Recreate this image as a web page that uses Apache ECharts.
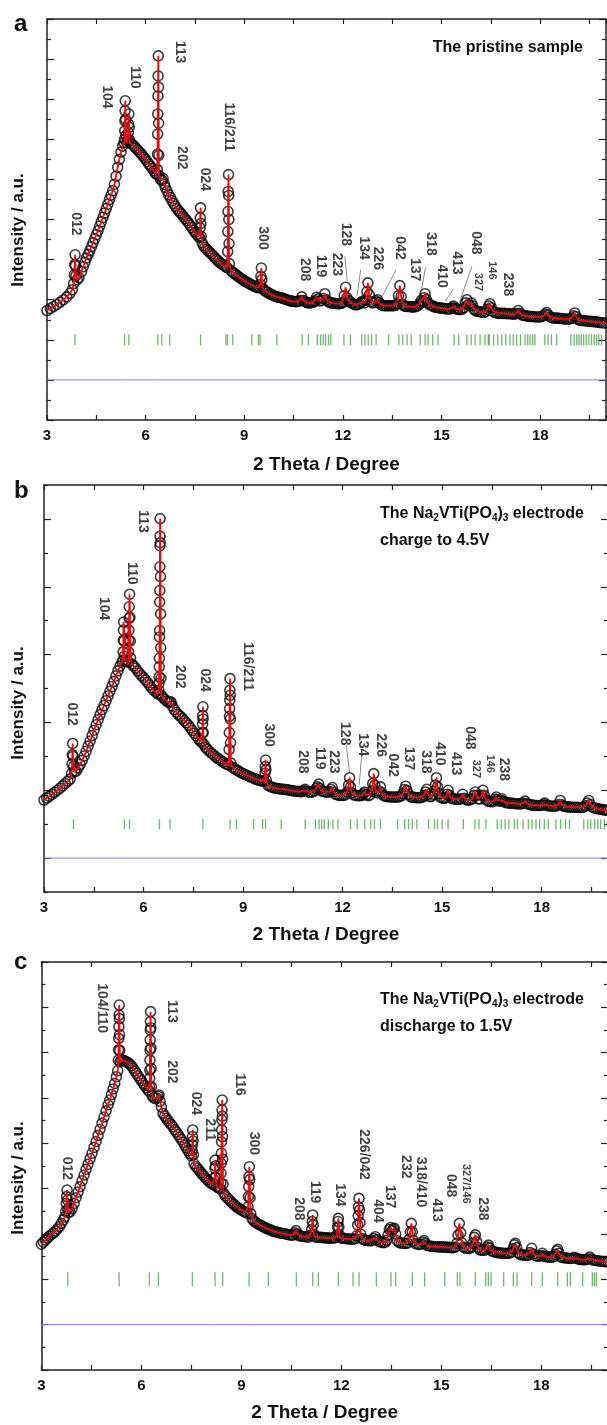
<!DOCTYPE html>
<html>
<head>
<meta charset="utf-8">
<script src="https://cdn.jsdelivr.net/npm/echarts@6/dist/echarts.min.js"></script>
<style>
html,body{margin:0;padding:0;background:#fff;}
#chart{width:607px;height:1425px;}
</style>
</head>
<body>
<div id="chart"></div>
<script>
var FONT = '"Liberation Sans", Arial, sans-serif';
var INK = '#111';

// ---- panel a : pristine sample ----
var obsA = [[3.0,2.73],[3.1,2.78],[3.2,2.83],[3.3,2.88],[3.4,2.94],[3.5,3.0],[3.6,3.07],[3.7,3.16],[3.77,3.25],[3.81,3.4],[3.83,3.62],[3.845,3.88],[3.855,4.12],[3.865,3.85],[3.88,3.6],[3.92,3.5],[3.97,3.55],[4.05,3.7],[4.1,3.82],[4.15,3.93],[4.2,4.04],[4.25,4.13],[4.3,4.22],[4.35,4.32],[4.4,4.42],[4.45,4.52],[4.5,4.62],[4.55,4.72],[4.6,4.83],[4.65,4.94],[4.7,5.05],[4.75,5.16],[4.8,5.27],[4.85,5.38],[4.9,5.5],[4.95,5.61],[5.0,5.72],[5.05,5.88],[5.1,6.08],[5.15,6.3],[5.2,6.5],[5.25,6.68],[5.3,6.83],[5.34,6.92],
[5.36,7.0],[5.365,7.21],[5.37,7.46],[5.375,7.71],[5.38,7.96],[5.39,7.5],[5.4,7.1],[5.43,6.92],
[5.465,6.96],[5.475,7.17],[5.48,7.38],[5.49,7.63],[5.5,7.3],[5.51,6.98],
[5.55,6.9],[5.6,6.87],[5.65,6.83],[5.7,6.78],[5.75,6.74],[5.8,6.69],[5.85,6.65],[5.9,6.6],[5.95,6.55],[6.0,6.5],[6.05,6.44],[6.1,6.38],[6.15,6.33],[6.2,6.27],[6.25,6.21],[6.3,6.15],[6.34,6.12],
[6.355,6.25],[6.36,6.63],[6.365,7.13],[6.37,7.63],[6.375,8.08],[6.38,8.58],[6.385,9.08],[6.39,8.3],[6.395,7.4],[6.4,6.6],[6.41,6.1],
[6.45,6.0],[6.5,5.97],[6.53,6.02],[6.57,5.88],[6.6,5.8],[6.65,5.71],[6.7,5.62],[6.75,5.55],[6.8,5.47],[6.85,5.4],[6.9,5.33],[6.95,5.27],[7.0,5.22],[7.05,5.17],[7.1,5.13],[7.15,5.07],[7.2,5.02],[7.25,4.97],[7.3,4.92],[7.35,4.86],[7.4,4.8],[7.45,4.74],[7.5,4.68],[7.55,4.63],[7.6,4.58],[7.64,4.55],
[7.655,4.79],[7.66,5.04],[7.67,5.29],[7.68,4.9],[7.69,4.58],[7.72,4.42],
[7.76,4.35],[7.8,4.3],[7.85,4.26],[7.9,4.22],[7.95,4.18],[8.0,4.14],[8.05,4.1],[8.1,4.05],[8.15,4.01],[8.2,3.97],[8.25,3.93],[8.3,3.9],[8.35,3.87],[8.4,3.84],[8.45,3.81],[8.48,3.8],
[8.495,4.2],[8.5,4.7],[8.505,5.2],[8.51,5.7],[8.52,6.12],[8.525,5.6],[8.53,5.0],[8.535,4.4],[8.545,3.9],
[8.6,3.72],[8.65,3.68],[8.7,3.65],[8.75,3.62],[8.8,3.59],[8.85,3.56],[8.9,3.53],[8.95,3.5],[9.0,3.47],[9.05,3.45],[9.1,3.43],[9.15,3.4],[9.2,3.38],[9.25,3.36],[9.3,3.34],[9.35,3.32],[9.4,3.3],[9.46,3.3],
[9.49,3.38],[9.505,3.58],[9.52,3.79],[9.535,3.5],[9.56,3.28],
[9.6,3.24],[9.65,3.21],[9.7,3.19],[9.75,3.16],[9.8,3.14],[9.85,3.12],[9.9,3.1],[9.95,3.08],[10.0,3.07],[10.05,3.06],[10.1,3.05],[10.15,3.04],[10.2,3.03],[10.25,3.01],[10.3,3.0],[10.35,2.98],[10.4,2.97],[10.45,2.96],[10.5,2.96],[10.55,2.95],[10.6,2.95],[10.65,2.96],[10.7,2.98],[10.75,3.07],[10.8,2.98],[10.85,2.95],[10.9,2.93],[10.95,2.92],[11.0,2.92],[11.05,2.93],[11.1,2.94],[11.15,2.97],[11.2,3.06],[11.25,3.02],[11.3,2.97],[11.35,2.98],[11.4,3.03],[11.45,3.15],[11.5,3.0],[11.55,2.95],[11.6,2.93],[11.65,2.92],[11.7,2.91],[11.75,2.91],[11.8,2.9],[11.85,2.9],[11.9,2.9],[11.95,2.91],[12.0,2.93],[12.04,3.1],[12.08,3.31],[12.12,3.05],[12.16,2.98],[12.2,2.96],[12.25,2.92],[12.3,2.9],[12.35,2.88],[12.4,2.87],[12.45,2.88],[12.5,2.9],[12.55,2.94],[12.6,2.96],[12.65,2.92],[12.7,3.0],[12.73,3.2],[12.76,3.42],[12.8,3.12],[12.85,2.95],[12.9,2.92],[12.95,2.94],[13.0,2.97],[13.05,3.0],[13.1,2.93],[13.15,2.88],[13.2,2.86],[13.25,2.85],[13.3,2.85],[13.35,2.85],[13.4,2.85],[13.45,2.85],[13.5,2.85],[13.55,2.85],[13.6,2.86],[13.65,2.9],[13.69,3.1],[13.73,3.35],[13.77,3.08],[13.82,2.88],[13.87,2.84],[13.92,2.83],[13.97,2.83],[14.02,2.83],[14.07,2.82],[14.12,2.82],[14.17,2.82],[14.22,2.83],[14.28,2.85],[14.33,2.9],[14.38,2.98],[14.43,2.95],[14.47,3.05],[14.5,3.15],[14.54,3.0],[14.58,2.92],[14.63,2.88],[14.68,2.86],[14.73,2.84],[14.78,2.82],[14.84,2.81],[14.9,2.8],[14.96,2.79],[15.02,2.79],[15.08,2.78],[15.14,2.77],[15.2,2.77],[15.26,2.77],[15.32,2.8],[15.36,2.84],[15.4,2.79],[15.45,2.77],[15.5,2.76],[15.56,2.75],[15.62,2.76],[15.68,2.8],[15.73,2.92],[15.77,3.0],[15.81,2.88],[15.86,2.85],[15.9,2.92],[15.94,2.85],[15.99,2.76],[16.04,2.72],[16.1,2.71],[16.16,2.7],[16.22,2.69],[16.28,2.68],[16.34,2.7],[16.39,2.76],[16.43,2.84],[16.47,2.9],[16.51,2.8],[16.56,2.72],[16.62,2.68],[16.68,2.67],[16.74,2.66],[16.8,2.66],[16.86,2.66],[16.92,2.66],[16.98,2.65],[17.04,2.65],[17.1,2.65],[17.16,2.64],[17.22,2.64],[17.28,2.66],[17.33,2.73],[17.38,2.66],[17.44,2.62],[17.5,2.61],[17.56,2.6],[17.62,2.59],[17.68,2.58],[17.74,2.58],[17.8,2.58],[17.86,2.57],[17.92,2.57],[17.98,2.57],[18.04,2.58],[18.1,2.6],[18.15,2.64],[18.19,2.68],[18.24,2.62],[18.3,2.57],[18.36,2.55],[18.42,2.54],[18.48,2.54],[18.54,2.54],[18.6,2.53],[18.66,2.53],[18.72,2.52],[18.78,2.52],[18.84,2.52],[18.9,2.52],[18.96,2.54],[19.01,2.6],[19.05,2.67],[19.09,2.58],[19.14,2.51],[19.2,2.49],[19.26,2.48],[19.32,2.48],[19.38,2.47],[19.44,2.47],[19.5,2.46],[19.56,2.46],[19.62,2.45],[19.68,2.45],[19.74,2.44],[19.8,2.43],[19.86,2.43],[19.92,2.42],[20.0,2.42]];
var braggA = [3.85,5.36,5.49,6.37,6.49,6.73,7.67,8.44,8.49,8.65,9.23,9.43,9.48,9.99,10.76,10.95,11.22,11.32,11.4,11.47,11.56,11.63,12.03,12.23,12.57,12.67,12.77,12.87,13.01,13.39,13.7,13.82,13.95,14.08,14.35,14.5,14.59,14.73,14.89,15.38,15.52,15.77,15.9,16.02,16.17,16.32,16.42,16.45,16.58,16.71,16.83,16.95,17.08,17.18,17.28,17.4,17.54,17.62,17.69,17.77,17.84,18.14,18.24,18.34,18.5,18.93,19.03,19.11,19.18,19.25,19.32,19.4,19.48,19.56,19.64,19.71,19.78,19.86];
var diffA = [[3,1],[5.35,1],[5.39,1.03],[5.43,1],[6.35,1],[6.38,1.02],[6.41,1],[20,1]];
var hklA = [['012',3.88,5.18],['104',4.81,8.35],['110',5.67,8.83],['113',7.03,9.46],['202',7.11,6.83],['024',7.79,6.29],['116/211',8.52,7.92],['300',9.55,4.83],['208',10.85,4.04],['119',11.34,4.12],['223',11.81,4.17],['128',12.08,4.92],['134',12.64,4.58],['226',13.07,4.32],['042',13.73,4.58],['137',14.2,4.04],['318',14.66,4.68],['410',15.01,3.88],['413',15.46,4.21],['048',16.04,4.71],['327',16.12,3.67,'s'],['146',16.53,3.96,'s'],['238',17.03,3.67]];
var leadA = [[[12.06,4.08],[12.13,3.46]],[[12.54,3.75],[12.43,3.1]],[[13.62,3.75],[13.19,3.08]],[[14.51,3.79],[14.38,3.21]],[[15.36,3.27],[15.11,2.96]],[[15.92,3.83],[15.54,2.92]]];

// ---- panel b : charged to 4.5 V ----
var obsB = [[3.0,2.71],[3.08,2.77],[3.16,2.82],[3.24,2.88],[3.32,2.94],[3.4,3.0],[3.48,3.06],[3.56,3.13],[3.64,3.2],[3.72,3.27],[3.79,3.33],[3.83,3.5],[3.845,3.78],[3.855,4.05],[3.865,4.38],[3.875,4.0],[3.89,3.7],[3.92,3.55],[3.97,3.56],[4.03,3.66],[4.09,3.76],[4.15,3.88],[4.21,4.01],[4.27,4.15],[4.33,4.3],[4.39,4.45],[4.45,4.61],[4.51,4.77],[4.57,4.93],[4.63,5.08],[4.69,5.23],[4.75,5.38],[4.81,5.5],[4.87,5.64],[4.93,5.78],[4.99,5.92],[5.05,6.06],[5.11,6.21],[5.17,6.37],[5.23,6.52],[5.29,6.66],[5.35,6.78],
[5.38,6.83],[5.385,7.08],[5.39,7.42],[5.395,7.72],[5.4,7.96],[5.41,7.4],[5.42,6.95],[5.46,6.8],[5.51,6.79],[5.545,6.78],
[5.55,7.08],[5.555,7.42],[5.56,7.72],[5.565,8.07],[5.57,8.41],[5.58,8.78],[5.59,8.1],[5.6,7.4],[5.61,6.9],
[5.65,6.72],[5.7,6.67],[5.76,6.6],[5.82,6.52],[5.88,6.45],[5.94,6.38],[6.0,6.32],[6.06,6.25],[6.12,6.18],[6.18,6.1],[6.24,6.02],[6.3,5.95],[6.36,5.9],[6.42,5.85],[6.45,5.83],
[6.46,5.95],[6.465,6.15],[6.47,6.34],[6.475,6.64],[6.478,6.89],[6.482,7.52],[6.485,7.71],[6.488,8.55],[6.49,8.89],[6.493,9.59],[6.495,10.21],[6.497,10.49],[6.5,11.01],[6.505,10.3],[6.51,9.3],[6.515,8.2],[6.52,7.2],[6.525,6.3],[6.535,5.8],
[6.58,5.74],[6.64,5.68],[6.7,5.63],[6.76,5.59],[6.8,5.6],[6.83,5.6],[6.87,5.48],[6.93,5.38],[6.99,5.3],[7.05,5.23],[7.11,5.18],[7.17,5.12],[7.23,5.05],[7.29,4.99],[7.35,4.92],[7.41,4.84],[7.47,4.76],[7.53,4.68],[7.59,4.6],[7.65,4.51],[7.71,4.45],[7.76,4.42],
[7.775,4.7],[7.78,4.95],[7.785,5.2],[7.79,5.46],[7.795,5.1],[7.8,4.7],[7.815,4.36],
[7.86,4.27],[7.92,4.21],[7.98,4.15],[8.04,4.1],[8.1,4.05],[8.16,4.0],[8.22,3.95],[8.28,3.91],[8.34,3.87],[8.4,3.83],[8.46,3.79],[8.52,3.76],[8.57,3.74],
[8.58,4.2],[8.585,4.7],[8.59,5.18],[8.595,5.41],[8.6,5.65],[8.603,5.95],[8.607,6.29],[8.612,5.8],[8.617,5.1],[8.622,4.4],[8.635,3.8],
[8.68,3.68],[8.74,3.64],[8.8,3.6],[8.86,3.57],[8.92,3.53],[8.98,3.5],[9.04,3.47],[9.1,3.45],[9.16,3.42],[9.22,3.39],[9.28,3.37],[9.34,3.34],[9.4,3.32],[9.46,3.3],[9.52,3.28],[9.58,3.27],[9.64,3.27],
[9.66,3.5],[9.67,3.7],[9.68,3.89],[9.69,3.6],[9.7,3.3],
[9.75,3.15],[9.81,3.11],[9.87,3.09],[9.93,3.07],[9.99,3.06],[10.05,3.05],[10.11,3.04],[10.17,3.03],[10.23,3.03],[10.29,3.02],[10.35,3.01],[10.41,3.0],[10.47,2.99],[10.53,2.98],[10.59,2.97],[10.65,2.97],[10.71,2.96],[10.77,2.96],[10.83,2.99],[10.87,3.03],[10.91,2.98],[10.97,2.95],[11.03,2.94],[11.09,2.95],[11.15,2.98],[11.2,3.05],[11.24,3.1],[11.28,3.18],[11.32,3.05],[11.37,2.98],[11.43,2.96],[11.49,2.95],[11.55,2.94],[11.61,2.96],[11.65,3.02],[11.69,3.08],[11.73,2.95],[11.79,2.88],[11.85,2.86],[11.91,2.85],[11.97,2.85],[12.03,2.85],[12.09,2.87],[12.14,2.95],[12.18,3.15],[12.21,3.37],[12.24,3.1],[12.28,2.92],[12.34,2.86],[12.4,2.85],[12.46,2.84],[12.52,2.84],[12.58,2.85],[12.63,2.9],[12.67,2.95],[12.71,2.87],[12.77,2.84],[12.83,2.86],[12.88,2.98],[12.91,3.2],[12.94,3.49],[12.97,3.15],[13.01,2.95],[13.06,2.92],[13.1,2.98],[13.14,3.1],[13.18,2.92],[13.23,2.85],[13.29,2.82],[13.35,2.81],[13.41,2.81],[13.47,2.8],[13.53,2.8],[13.59,2.8],[13.65,2.8],[13.71,2.81],[13.77,2.83],[13.82,2.9],[13.86,3.02],[13.9,3.12],[13.94,3.0],[13.99,2.88],[14.05,2.81],[14.11,2.79],[14.17,2.79],[14.23,2.78],[14.29,2.78],[14.35,2.78],[14.41,2.8],[14.46,2.85],[14.5,2.95],[14.54,3.03],[14.58,2.88],[14.63,2.81],[14.68,2.82],[14.73,2.88],[14.77,2.98],[14.8,3.15],[14.83,3.37],[14.86,3.1],[14.9,2.9],[14.95,2.8],[15.0,2.77],[15.06,2.76],[15.11,2.78],[15.15,2.88],[15.18,3.0],[15.22,2.85],[15.27,2.77],[15.33,2.75],[15.39,2.74],[15.45,2.73],[15.51,2.73],[15.57,2.75],[15.62,2.88],[15.67,2.76],[15.73,2.72],[15.79,2.71],[15.85,2.72],[15.91,2.75],[15.96,2.85],[16.0,2.95],[16.04,2.85],[16.09,2.75],[16.14,2.74],[16.19,2.85],[16.23,3.0],[16.27,2.85],[16.32,2.73],[16.38,2.68],[16.44,2.67],[16.5,2.66],[16.56,2.68],[16.6,2.74],[16.63,2.8],[16.67,2.72],[16.72,2.68],[16.77,2.7],[16.8,2.75],[16.84,2.68],[16.9,2.64],[16.96,2.63],[17.02,2.62],[17.08,2.62],[17.14,2.61],[17.2,2.61],[17.26,2.6],[17.32,2.6],[17.38,2.6],[17.44,2.62],[17.5,2.68],[17.56,2.61],[17.62,2.58],[17.68,2.57],[17.74,2.56],[17.8,2.55],[17.86,2.55],[17.92,2.55],[17.98,2.55],[18.04,2.57],[18.09,2.62],[18.14,2.57],[18.2,2.54],[18.26,2.54],[18.32,2.53],[18.38,2.53],[18.44,2.54],[18.5,2.58],[18.56,2.7],[18.61,2.57],[18.66,2.53],[18.72,2.52],[18.78,2.51],[18.84,2.51],[18.9,2.5],[18.96,2.5],[19.02,2.5],[19.08,2.5],[19.14,2.49],[19.2,2.49],[19.26,2.5],[19.32,2.54],[19.37,2.62],[19.42,2.7],[19.47,2.58],[19.53,2.5],[19.59,2.48],[19.65,2.46],[19.71,2.45],[19.77,2.44],[19.83,2.43],[19.89,2.42],[19.95,2.41],[20.0,2.4]];
var braggB = [3.89,5.42,5.58,6.48,6.8,7.79,8.61,8.8,9.32,9.59,9.68,10.15,10.87,11.18,11.29,11.37,11.45,11.57,11.71,11.86,12.24,12.44,12.67,12.85,12.96,13.14,13.66,13.87,13.99,14.1,14.24,14.59,14.77,14.86,15.0,15.18,15.64,15.99,16.11,16.32,16.66,16.78,16.9,17.01,17.18,17.27,17.44,17.6,17.71,17.83,17.94,18.08,18.2,18.43,18.57,18.72,18.84,19.27,19.39,19.48,19.6,19.69,19.78,19.89];
var diffB = [[3,1],[5.37,1],[5.4,1.03],[5.43,1],[6.47,1],[6.5,1.03],[6.53,1],[20,1]];
var hklB = [['012',3.85,5.59],['104',4.8,8.7],['110',5.65,9.73],['113',5.98,11.26],['202',7.09,6.69],['024',7.84,6.59],['116/211',9.14,7.37],['300',9.79,4.97],['208',10.81,4.18],['119',11.3,4.28],['223',11.74,4.18],['128',12.07,5.01],['134',12.62,4.69],['226',13.14,4.67],['042',13.52,4.08],['137',14.01,4.28],['318',14.5,4.18],['410',14.94,4.42],['413',15.41,4.13],['048',15.85,4.89],['327',16.01,3.9,'s'],['146',16.43,4.05,'s'],['238',16.86,3.96]];
var leadB = [[[12.11,4.33],[12.21,3.54]],[[12.58,4.08],[12.5,3.15]]];

// ---- panel c : discharged to 1.5 V ----
var obsC = [[3.0,5.55],[3.06,5.64],[3.12,5.73],[3.18,5.82],[3.24,5.9],[3.3,5.98],[3.36,6.05],[3.42,6.13],[3.48,6.22],[3.54,6.33],[3.6,6.47],[3.66,6.62],[3.7,6.75],
[3.73,7.0],[3.745,7.35],[3.755,7.65],[3.77,7.94],[3.78,7.5],[3.79,7.1],[3.81,6.95],
[3.86,6.97],[3.92,7.12],[3.98,7.35],[4.04,7.6],[4.1,7.85],[4.16,8.09],[4.22,8.35],[4.28,8.6],[4.34,8.85],[4.4,9.08],[4.46,9.32],[4.52,9.56],[4.58,9.82],[4.64,10.08],[4.7,10.35],[4.76,10.62],[4.82,10.89],[4.88,11.16],[4.94,11.43],[5.0,11.7],[5.05,11.91],[5.1,12.15],[5.15,12.4],[5.2,12.64],[5.25,12.94],[5.29,13.2],
[5.31,13.67],[5.315,14.12],[5.32,14.63],[5.325,15.15],[5.33,15.66],[5.335,16.1],[5.34,15.5],[5.345,14.8],[5.35,14.1],[5.36,13.6],
[5.4,13.67],[5.45,13.67],[5.5,13.64],[5.55,13.6],[5.6,13.55],[5.65,13.5],[5.7,13.42],[5.75,13.32],[5.8,13.2],[5.85,13.09],[5.9,12.98],[5.95,12.87],[6.0,12.76],[6.05,12.65],[6.1,12.55],[6.15,12.45],[6.2,12.35],[6.23,12.3],
[6.245,12.5],[6.25,12.87],[6.253,13.23],[6.256,13.67],[6.26,14.12],[6.264,14.56],[6.268,15.0],[6.272,15.37],[6.276,15.81],[6.282,15.1],[6.288,14.2],[6.294,13.3],[6.3,12.5],[6.32,12.1],
[6.37,12.0],[6.42,11.98],[6.47,12.0],[6.5,12.08],[6.53,12.13],[6.56,11.85],[6.6,11.6],[6.65,11.32],[6.7,11.2],[6.75,11.1],[6.8,11.0],[6.85,10.9],[6.9,10.82],[6.95,10.72],[7.0,10.6],[7.05,10.5],[7.1,10.39],[7.15,10.28],[7.2,10.17],[7.25,10.05],[7.3,9.92],[7.35,9.8],[7.4,9.67],[7.45,9.55],[7.5,9.45],
[7.52,9.7],[7.527,9.93],[7.533,10.3],[7.54,10.59],[7.55,10.1],[7.56,9.5],[7.58,9.1],
[7.63,8.98],[7.68,8.9],[7.73,8.82],[7.78,8.72],[7.83,8.63],[7.88,8.55],[7.93,8.46],[7.98,8.39],[8.03,8.32],[8.08,8.25],[8.13,8.2],[8.18,8.15],
[8.2,8.5],[8.207,8.9],[8.213,9.26],[8.22,9.0],[8.23,8.5],[8.25,8.1],
[8.3,8.05],[8.35,8.0],[8.37,8.0],
[8.385,8.24],[8.39,8.68],[8.395,9.12],[8.4,9.56],[8.405,10.07],[8.41,10.59],[8.415,11.03],[8.42,11.47],[8.425,11.91],[8.43,11.2],[8.435,10.3],[8.44,9.3],[8.45,8.2],[8.47,7.8],
[8.52,7.68],[8.57,7.6],[8.62,7.53],[8.67,7.45],[8.72,7.38],[8.77,7.31],[8.82,7.25],[8.87,7.19],[8.92,7.13],[8.97,7.08],[9.02,7.04],[9.07,7.0],[9.12,6.96],[9.17,6.92],
[9.2,7.2],[9.21,7.65],[9.22,8.09],[9.23,8.53],[9.24,8.97],[9.25,8.4],[9.26,7.6],[9.28,6.9],
[9.32,6.68],[9.37,6.58],[9.42,6.52],[9.47,6.47],[9.52,6.43],[9.57,6.39],[9.62,6.35],[9.67,6.31],[9.72,6.27],[9.77,6.24],[9.82,6.21],[9.87,6.18],[9.92,6.15],[9.97,6.12],[10.03,6.1],[10.09,6.07],[10.15,6.05],[10.21,6.03],[10.27,6.02],[10.33,6.0],[10.39,5.98],[10.45,5.96],[10.51,5.95],[10.56,5.96],[10.6,6.05],[10.64,6.15],[10.68,6.0],[10.73,5.93],[10.79,5.91],[10.85,5.89],[10.91,5.88],[10.97,5.87],[11.03,5.87],[11.08,5.95],
[11.11,6.2],[11.125,6.55],[11.14,6.84],[11.155,6.4],[11.175,5.98],
[11.22,5.87],[11.28,5.86],[11.34,5.85],[11.4,5.85],[11.46,5.84],[11.52,5.83],[11.58,5.83],[11.64,5.82],[11.7,5.82],[11.76,5.82],[11.82,5.84],[11.86,5.95],
[11.885,6.3],[11.9,6.55],[11.91,6.69],[11.925,6.3],[11.945,5.95],
[11.99,5.83],[12.05,5.81],[12.11,5.8],[12.17,5.79],[12.23,5.78],[12.29,5.77],[12.35,5.77],[12.41,5.79],[12.46,5.92],
[12.49,6.4],[12.505,6.8],[12.515,7.2],[12.53,7.57],[12.545,7.05],[12.56,6.5],[12.58,6.0],
[12.62,5.8],[12.68,5.74],[12.74,5.72],[12.8,5.71],[12.86,5.7],[12.92,5.72],[12.97,5.8],[13.02,5.88],[13.07,5.75],[13.13,5.67],[13.19,5.64],[13.25,5.62],[13.31,5.63],[13.36,5.72],[13.4,5.95],[13.44,6.2],[13.48,6.29],[13.52,6.15],[13.56,6.22],[13.59,6.25],[13.63,6.0],[13.68,5.7],[13.74,5.62],[13.8,5.6],[13.86,5.59],[13.92,5.58],[13.98,5.6],[14.03,5.75],[14.07,6.1],[14.1,6.47],[14.13,6.1],[14.17,5.7],[14.22,5.58],[14.28,5.55],[14.34,5.54],[14.4,5.56],[14.45,5.65],[14.48,5.71],[14.52,5.58],[14.58,5.49],[14.64,5.47],[14.7,5.46],[14.76,5.45],[14.82,5.44],[14.88,5.44],[14.94,5.43],[15.0,5.43],[15.06,5.42],[15.12,5.42],[15.18,5.41],[15.24,5.41],[15.3,5.4],[15.36,5.4],[15.42,5.42],[15.47,5.6],[15.5,5.95],[15.54,6.47],[15.58,6.05],[15.62,5.6],[15.67,5.42],[15.73,5.37],[15.79,5.36],[15.85,5.36],[15.9,5.42],[15.95,5.6],[15.99,5.85],[16.02,5.96],[16.06,5.65],[16.1,5.4],[16.16,5.3],[16.22,5.28],[16.28,5.28],[16.34,5.32],[16.38,5.42],[16.41,5.51],[16.45,5.38],[16.5,5.26],[16.56,5.22],[16.62,5.2],[16.68,5.18],[16.74,5.17],[16.8,5.16],[16.86,5.15],[16.92,5.15],[16.98,5.14],[17.04,5.15],[17.1,5.2],[17.15,5.35],[17.19,5.52],[17.22,5.59],[17.26,5.4],[17.31,5.17],[17.37,5.09],[17.43,5.08],[17.49,5.07],[17.55,5.06],[17.61,5.07],[17.66,5.18],[17.71,5.37],[17.76,5.12],[17.82,5.04],[17.88,5.02],[17.94,5.02],[18.0,5.05],[18.03,5.15],[18.07,5.03],[18.13,5.0],[18.19,4.99],[18.25,4.98],[18.31,4.98],[18.37,5.0],[18.42,5.1],[18.46,5.25],[18.49,5.32],[18.53,5.15],[18.58,4.99],[18.64,4.96],[18.7,4.95],[18.76,4.94],[18.82,4.93],[18.88,4.92],[18.94,4.93],[18.99,4.97],[19.04,4.93],[19.1,4.9],[19.16,4.88],[19.22,4.87],[19.28,4.87],[19.34,4.87],[19.4,4.9],[19.45,4.98],[19.5,4.9],[19.56,4.85],[19.62,4.83],[19.68,4.82],[19.74,4.81],[19.8,4.8],[19.86,4.79],[19.92,4.78],[20.0,4.77]];
var braggC = [3.79,5.33,6.24,6.51,7.53,8.21,8.44,9.23,9.81,10.65,11.14,11.31,11.91,12.35,12.53,13.05,13.49,13.63,14.13,14.5,15.1,15.48,15.56,16.02,16.33,16.41,16.49,16.87,17.16,17.27,17.71,18.03,18.49,18.78,18.87,19.24,19.53,19.59,19.65];
var diffC = [[3,2],[8.2,2],[8.23,2.05],[8.26,2],[9.22,2],[9.24,2.04],[9.26,2],[20,2]];
var hklC = [['012',3.76,9.41],['104/110',4.8,17.06],['113',6.9,16.32],['202',6.9,13.67],['024',7.64,12.28],['211',8.06,11.1],['116',8.96,13.09],['300',9.36,10.51],['208',10.71,7.62],['119',11.21,8.35],['134',11.96,8.24],['226/042',12.66,10.62],['404',13.1,7.53],['137',13.47,8.16],['232',13.94,9.48],['318/410',14.4,9.41],['413',14.88,7.57],['048',15.3,8.65],['327/146',15.74,9.09,'s'],['238',16.25,7.62]];
var leadC = [];

// majorLen / minorLen: panel b has its long ticks on the odd positions
var panels = [
  {obs: obsA, bragg: braggA, braggY: 2, braggH: 11, diff: diffA, hkl: hklA, lead: leadA,
   left: 47, top: 19, height: 401, right: 1, ymax: 10, ystep: 1, majorLen: 7, minorLen: 4, nameGap: 35, yNameY: 230, yNameX: 18},
  {obs: obsB, bragg: braggB, braggY: 2, braggH: 10, diff: diffB, hkl: hklB, lead: leadB,
   left: 44, top: 485, height: 407, right: -1, ymax: 12, ystep: 2, majorLen: 4, minorLen: 7, nameGap: 33, yNameY: 703, yNameX: 18},
  {obs: obsC, bragg: braggC, braggY: 4, braggH: 14, diff: diffC, hkl: hklC, lead: leadC,
   left: 41.4, top: 962, height: 408, right: -1, ymax: 18, ystep: 2, majorLen: 7, minorLen: 4, nameGap: 33, yNameY: 1178, yNameX: 18}
];

var chart = echarts.init(document.getElementById('chart'), null, {renderer: 'canvas'});

var axisLine = {show: true, onZero: false, lineStyle: {color: '#222', width: 1.5}};
var tickStyle = {show: true, inside: true, length: 5, lineStyle: {color: '#222', width: 1.2}};

function yAxisFor(p, i, side) {
  return {
    type: 'value', gridIndex: i, position: side, min: 0, max: p.ymax, interval: p.ystep,
    axisLine: axisLine,
    axisTick: {show: true, inside: true, length: p.majorLen, lineStyle: {color: '#222', width: 1.2}},
    minorTick: {show: true, splitNumber: 2, length: p.minorLen, lineStyle: {color: '#222', width: 1.2}},
    splitLine: {show: false}, minorSplitLine: {show: false}, axisLabel: {show: false}
  };
}

var grids = [], xAxes = [], yAxes = [], series = [];
panels.forEach(function (p, i) {
  grids.push({left: p.left, top: p.top, height: p.height, right: p.right, containLabel: false, outerBoundsMode: 'none'});
  xAxes.push({
    type: 'value', gridIndex: i, position: 'bottom', min: 3, max: 20, interval: 1.5,
    axisLine: axisLine, axisTick: tickStyle, splitLine: {show: false},
    axisLabel: {
      color: INK, fontSize: 15, fontWeight: 'bold', fontFamily: FONT, margin: 8,
      formatter: function (v) { return v % 3 === 0 ? String(v) : ''; }
    },
    name: '2 Theta / Degree', nameLocation: 'middle', nameGap: p.nameGap,
    nameTextStyle: {color: INK, fontSize: 19, fontWeight: 'bold', fontFamily: FONT}
  });
  xAxes.push({
    type: 'value', gridIndex: i, position: 'top', min: 3, max: 20, interval: 1.5,
    axisLine: axisLine, axisTick: tickStyle, splitLine: {show: false}, axisLabel: {show: false}
  });
  yAxes.push(yAxisFor(p, i, 'left'));
  yAxes.push(yAxisFor(p, i, 'right'));

  var xi = i * 2, yi = i * 2;
  // observed points
  series.push({
    type: 'scatter', xAxisIndex: xi, yAxisIndex: yi, z: 2, silent: true,
    symbol: 'circle', symbolSize: 10,
    itemStyle: {color: 'rgba(0,0,0,0)', borderColor: '#0a0a0a', borderWidth: 1.6},
    data: p.obs
  });
  // calculated profile
  series.push({
    type: 'line', xAxisIndex: xi, yAxisIndex: yi, z: 3, silent: true,
    showSymbol: false, symbol: 'none',
    lineStyle: {color: '#ff0000', width: 1.8},
    data: p.obs
  });
  // Bragg positions
  series.push({
    type: 'scatter', xAxisIndex: xi, yAxisIndex: yi, z: 2, silent: true,
    symbol: 'rect', symbolSize: [1.3, p.braggH],
    itemStyle: {color: 'rgba(30,140,30,0.8)'},
    data: p.bragg.map(function (x) { return [x, p.braggY]; })
  });
  // difference curve
  series.push({
    type: 'line', xAxisIndex: xi, yAxisIndex: yi, z: 2, silent: true,
    showSymbol: false, symbol: 'none',
    lineStyle: {color: '#7f7fff', width: 1},
    data: p.diff
  });
  // hkl labels
  series.push({
    type: 'scatter', xAxisIndex: xi, yAxisIndex: yi, z: 6, silent: true,
    symbolSize: 0,
    label: {show: true, position: 'inside', formatter: '{b}', rotate: -90, align: 'left', verticalAlign: 'middle',
      color: INK, fontSize: 14, fontWeight: 'bold', fontFamily: FONT},
    data: p.hkl.map(function (h) {
      return {name: h[0], value: [h[1], h[2]], label: {fontSize: h[3] === 's' ? 11 : 14}};
    })
  });
  if (p.lead.length) {
    series.push({
      type: 'lines', coordinateSystem: 'cartesian2d', xAxisIndex: xi, yAxisIndex: yi, z: 5, silent: true,
      lineStyle: {color: '#555', width: 0.7, opacity: 1},
      data: p.lead.map(function (c) { return {coords: c}; })
    });
  }
});

var RICH = {
  n: {fontSize: 16, fontWeight: 'bold', fontFamily: FONT, fill: INK, lineHeight: 27},
  s: {fontSize: 10, fontWeight: 'bold', fontFamily: FONT, fill: INK, lineHeight: 27, padding: [10, 0, 0, 0]}
};
var graphics = [
  {type: 'text', x: 14, y: 24, style: {text: 'a', fill: INK, font: 'bold 24px ' + FONT, textVerticalAlign: 'middle', verticalAlign: 'middle'}},
  {type: 'text', x: 14, y: 491, style: {text: 'b', fill: INK, font: 'bold 24px ' + FONT, textVerticalAlign: 'middle', verticalAlign: 'middle'}},
  {type: 'text', x: 14, y: 962, style: {text: 'c', fill: INK, font: 'bold 24px ' + FONT, textVerticalAlign: 'middle', verticalAlign: 'middle'}},
  {type: 'text', x: 583, y: 48, style: {text: 'The pristine sample', fill: INK, font: 'bold 16px ' + FONT,
    textAlign: 'right', align: 'right', textVerticalAlign: 'middle', verticalAlign: 'middle'}},
  {type: 'text', x: 380, y: 500, style: {text: '{n|The Na}{s|2}{n|VTi(PO}{s|4}{n|)}{s|3}{n| electrode}\n{n|charge to 4.5V}',
    rich: RICH, fill: INK, font: 'bold 16px ' + FONT, textAlign: 'left', align: 'left', textVerticalAlign: 'top', verticalAlign: 'top'}},
  {type: 'text', x: 380, y: 986, style: {text: '{n|The Na}{s|2}{n|VTi(PO}{s|4}{n|)}{s|3}{n| electrode}\n{n|discharge to 1.5V}',
    rich: RICH, fill: INK, font: 'bold 16px ' + FONT, textAlign: 'left', align: 'left', textVerticalAlign: 'top', verticalAlign: 'top'}}
];
panels.forEach(function (p) {
  graphics.push({type: 'text', x: p.yNameX, y: p.yNameY, rotation: Math.PI / 2,
    style: {text: 'Intensity / a.u.', fill: INK, font: 'bold 17px ' + FONT,
      textAlign: 'center', align: 'center', textVerticalAlign: 'middle', verticalAlign: 'middle'}});
});

chart.setOption({
  animation: false,
  backgroundColor: '#fff',
  textStyle: {fontFamily: FONT},
  grid: grids,
  xAxis: xAxes,
  yAxis: yAxes,
  series: series,
  graphic: graphics
});
</script>
</body>
</html>
